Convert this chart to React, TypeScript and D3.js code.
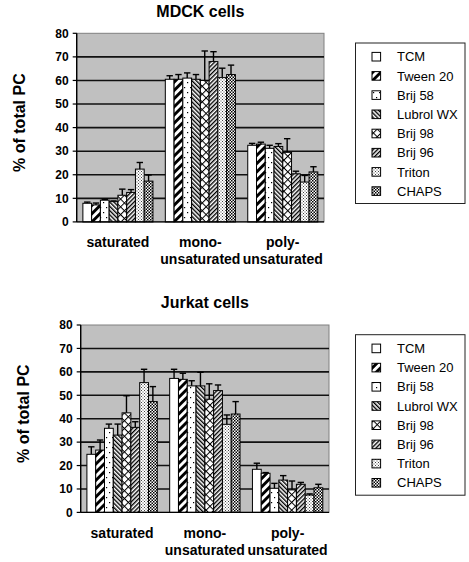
import React from "react";
import * as d3 from "d3";

const categories = ["saturated", "mono-unsaturated", "poly-unsaturated"];
const categoryLines = [["saturated"], ["mono-", "unsaturated"], ["poly-", "unsaturated"]];
const detergents = ["TCM", "Tween 20", "Brij 58", "Lubrol WX", "Brij 98", "Brij 96", "Triton", "CHAPS"];
const yTicks = [0, 10, 20, 30, 40, 50, 60, 70, 80];

// MDCK cells: values per detergent [saturated, mono, poly]
const mdckValues = [
  [7.9, 60.5, 32.5],
  [7.2, 60.5, 33.0],
  [9.2, 61.0, 31.2],
  [8.6, 60.5, 32.0],
  [11.3, 60.0, 29.5],
  [12.5, 68.0, 20.4],
  [22.4, 61.2, 16.9],
  [17.3, 62.5, 21.2],
];
const mdckErrors = [
  [0.5, 1.5, 0.8],
  [0.8, 2.0, 0.8],
  [0.4, 2.2, 1.3],
  [0.3, 2.0, 1.2],
  [2.6, 12.5, 5.8],
  [1.2, 4.2, 1.1],
  [2.8, 4.0, 2.8],
  [2.6, 4.0, 2.2],
];

// Jurkat cells
const jurkatValues = [
  [24.8, 57.2, 18.4],
  [26.6, 56.8, 16.7],
  [35.9, 54.0, 10.3],
  [33.0, 54.0, 13.8],
  [42.5, 48.3, 9.6],
  [36.3, 52.0, 12.0],
  [55.4, 37.6, 7.4],
  [47.3, 42.0, 10.5],
];
const jurkatErrors = [
  [3.2, 3.9, 2.6],
  [4.3, 2.6, 0.3],
  [1.8, 2.2, 2.1],
  [4.7, 5.8, 1.9],
  [7.3, 6.6, 3.8],
  [2.4, 2.4, 0.8],
  [5.7, 4.0, 0.5],
  [6.4, 5.3, 1.5],
];

const FONT = "'Liberation Sans', Arial, Helvetica, sans-serif";
const patternIds = ["p-tcm", "p-tween", "p-brij58", "p-lubrol", "p-brij98", "p-brij96", "p-triton", "p-chaps"];

function Patterns() {
  return (
    <defs>
      <pattern id="p-tcm" patternUnits="userSpaceOnUse" width="4" height="4">
        <rect width="4" height="4" fill="#fff" />
      </pattern>
      <pattern id="p-tween" patternUnits="userSpaceOnUse" width="5.8" height="6" patternTransform="rotate(45)">
        <rect width="5.8" height="6" fill="#fff" />
        <rect width="2.9" height="6" fill="#000" />
      </pattern>
      <pattern id="p-brij58" patternUnits="userSpaceOnUse" width="6" height="10">
        <rect width="6" height="10" fill="#fff" />
        <rect x="1" y="2" width="1.2" height="1.2" fill="#000" />
        <rect x="4" y="7" width="1.2" height="1.2" fill="#000" />
      </pattern>
      <pattern id="p-lubrol" patternUnits="userSpaceOnUse" width="3" height="4" patternTransform="rotate(-45)">
        <rect width="3" height="4" fill="#fff" />
        <rect width="1.4" height="4" fill="#000" />
      </pattern>
      <pattern id="p-brij98" patternUnits="userSpaceOnUse" width="5.5" height="5.5" patternTransform="rotate(45)">
        <rect width="5.5" height="5.5" fill="#fff" />
        <rect width="1" height="5.5" fill="#000" />
        <rect width="5.5" height="1" fill="#000" />
      </pattern>
      <pattern id="p-brij96" patternUnits="userSpaceOnUse" width="3" height="4" patternTransform="rotate(45)">
        <rect width="3" height="4" fill="#fff" />
        <rect width="1.4" height="4" fill="#000" />
      </pattern>
      <pattern id="p-triton" patternUnits="userSpaceOnUse" width="3" height="3">
        <rect width="3" height="3" fill="#fff" />
        <rect x="0" y="0" width="1" height="1" fill="#444" />
        <rect x="1.5" y="1.5" width="1" height="1" fill="#444" />
      </pattern>
      <pattern id="p-chaps" patternUnits="userSpaceOnUse" width="3" height="3">
        <rect width="3" height="3" fill="#fff" />
        <rect x="0" y="0" width="1.5" height="1.5" fill="#000" />
        <rect x="1.5" y="1.5" width="1.5" height="1.5" fill="#000" />
      </pattern>
    </defs>
  );
}

type PanelProps = {
  title: string;
  values: number[][];
  errors: number[][];
  left: number;
  right: number;
  top: number;
  bottom: number;
  legendTop: number;
};

function Panel({ title, values, errors, left, right, top, bottom, legendTop }: PanelProps) {
  const y = d3.scaleLinear().domain([0, 80]).range([bottom, top]);
  const x0 = d3.scaleBand<string>().domain(categories).range([left, right]).paddingInner(0.15).paddingOuter(0.075);
  const x1 = d3.scaleBand<string>().domain(detergents).range([0, x0.bandwidth()]);
  const cx = (left + right) / 2;
  const legendLeft = 355.5;
  const legendRight = 465;
  const rowH = 19.2;

  return (
    <g>
      <text x={cx} y={top - 16.6} textAnchor="middle" fontFamily={FONT} fontWeight="bold" fontSize={16}>
        {title}
      </text>
      <rect x={left} y={top} width={right - left} height={bottom - top} fill="#c0c0c0" stroke="#808080" strokeWidth={1} />
      {yTicks.filter((t) => t > 0 && t < 80).map((t) => (
        <line key={t} x1={left} x2={right} y1={y(t)} y2={y(t)} stroke="#111" strokeWidth={1.6} />
      ))}
      {yTicks.map((t) => (
        <g key={"t" + t}>
          <line x1={left - 4} x2={left} y1={y(t)} y2={y(t)} stroke="#000" strokeWidth={1.2} />
          <text x={left - 8} y={y(t)} dy="0.36em" textAnchor="end" fontFamily={FONT} fontWeight="bold" fontSize={12}>
            {t}
          </text>
        </g>
      ))}
      {categories.map((c, ci) => (
        <g key={c}>
          {detergents.map((dname, di) => {
            const v = values[di][ci];
            const e = errors[di][ci];
            const bx = (x0(c) as number) + (x1(dname) as number);
            const bw = x1.bandwidth();
            const mid = bx + bw / 2;
            return (
              <g key={dname}>
                <line x1={mid} x2={mid} y1={y(v)} y2={y(v + e)} stroke="#000" strokeWidth={1.4} />
                <line x1={mid - 3.2} x2={mid + 3.2} y1={y(v + e)} y2={y(v + e)} stroke="#000" strokeWidth={1.4} />
                <rect x={bx} y={y(v)} width={bw} height={y(0) - y(v)} fill={`url(#${patternIds[di]})`} stroke="#000" strokeWidth={1} />
              </g>
            );
          })}
          {categoryLines[ci].map((ln, li) => (
            <text
              key={li}
              x={(x0(c) as number) + x0.bandwidth() / 2}
              y={bottom + 25.5 + li * 17}
              textAnchor="middle"
              fontFamily={FONT}
              fontWeight="bold"
              fontSize={14}
            >
              {ln}
            </text>
          ))}
        </g>
      ))}
      <line x1={left} x2={left} y1={top} y2={bottom} stroke="#000" strokeWidth={1.4} />
      <line x1={left} x2={right} y1={bottom} y2={bottom} stroke="#000" strokeWidth={1.4} />
      <text
        transform={`translate(${left - 51.5},${(top + bottom) / 2 - 5}) rotate(-90)`}
        textAnchor="middle"
        fontFamily={FONT}
        fontWeight="bold"
        fontSize={16}
      >
        % of total PC
      </text>
      <rect x={legendLeft} y={legendTop} width={legendRight - legendLeft} height={160.5} fill="#fff" stroke="#222" strokeWidth={1} />
      {detergents.map((dname, di) => {
        const ry = legendTop + 13.7 + di * rowH;
        return (
          <g key={dname}>
            <rect x={372} y={ry - 4.3} width={8.6} height={8.6} fill={`url(#${patternIds[di]})`} stroke="#000" strokeWidth={1} />
            <text x={397} y={ry} dy="0.36em" fontFamily={FONT} fontSize={13}>
              {dname}
            </text>
          </g>
        );
      })}
    </g>
  );
}

export default function App() {
  return (
    <svg width={469} height={562} style={{ position: "absolute", left: 0, top: 0, background: "#fff" }}>
      <Patterns />
      <rect width={469} height={562} fill="#fff" />
      <Panel title="MDCK cells" values={mdckValues} errors={mdckErrors} left={76.7} right={324} top={33.3} bottom={221.9} legendTop={43} />
      <Panel title="Jurkat cells" values={jurkatValues} errors={jurkatErrors} left={80.7} right={329} top={325} bottom={512.4} legendTop={334.7} />
    </svg>
  );
}
